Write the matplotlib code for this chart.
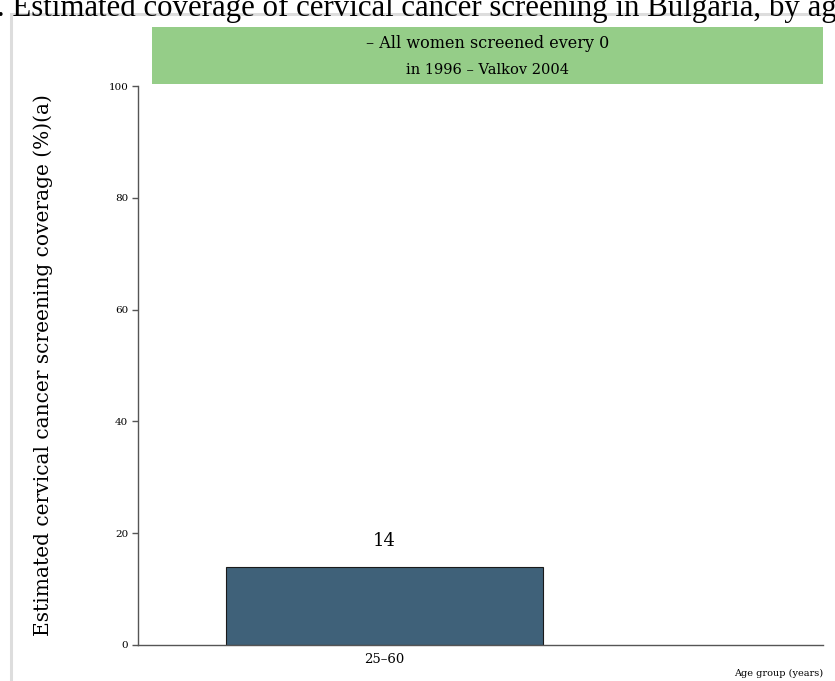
import matplotlib.pyplot as plt
from matplotlib.patches import Rectangle

# data
age_groups = ["25–60"]
coverage = [14]
yticks = [0, 20, 40, 60, 80, 100]

title = ". Estimated coverage of cervical cancer screening in Bulgaria, by age group"
note_lines = ["– All women screened every 0", "in 1996 – Valkov 2004"]

plt.rcParams['font.family'] = ['DejaVu Serif']

fig = plt.figure(figsize=(8.35, 6.81), dpi=100)
ax = fig.add_axes([0.1653, 0.0529, 0.8203, 0.8208])

# light frame around the chart
fig.patches.append(Rectangle((0.013, -0.1), 1.1, 0.1 + 1 - 14/681, transform=fig.transFigure,
                             fill=False, edgecolor='#dddddd', lw=2.2, zorder=0))

# title, clipped by the canvas like the original
fig.text(-0.004, 1 - 16/681, title, family='Liberation Serif', fontsize=22.2,
         ha='left', va='baseline', color='black')

# green note banner
fig.patches.append(Rectangle((152/835, 1 - 84/681), (823-152)/835, 57/681,
                             transform=fig.transFigure, facecolor='#95cd88',
                             edgecolor='none', zorder=1))
fig.text(487.5/835, 1 - 44/681, note_lines[0], ha='center', va='center', fontsize=11.5)
fig.text(487.5/835, 1 - 70/681, note_lines[1], ha='center', va='center', fontsize=10.5)

x = list(range(len(age_groups)))
bars = ax.bar(x, coverage, width=0.8, color='#3f6179', edgecolor='#1a1a1a', lw=0.8)
for xi, v in zip(x, coverage):
    ax.text(xi, v + 3, str(v), ha='center', va='bottom', fontsize=13)

ax.set_xlim(-0.622, 1.106)
ax.set_ylim(0, 100)
ax.set_yticks(yticks)
ax.set_yticklabels([str(t) for t in yticks], fontsize=7.5)
ax.set_xticks(x)
ax.set_xticklabels(age_groups, fontsize=9.5)
ax.tick_params(axis='x', length=0, pad=6)
ax.tick_params(axis='y', length=4, width=1, color='#555555', pad=3)

for s in ['top', 'right']:
    ax.spines[s].set_visible(False)
for s in ['left', 'bottom']:
    ax.spines[s].set_color('#555555')
    ax.spines[s].set_linewidth(1)

ax.set_ylabel("Estimated cervical cancer screening coverage (%)(a)", fontsize=14.5, labelpad=40)
fig.text(823/835, 1 - 673/681, "Age group (years)", ha='right', va='center', fontsize=7)

fig.savefig("out.png", dpi=100)
